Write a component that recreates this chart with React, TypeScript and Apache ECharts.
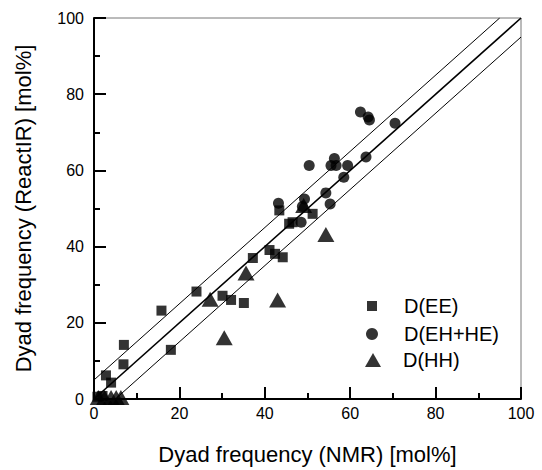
import React, { useEffect, useRef } from "react";
import * as echarts from "echarts";

const FONT = "'Liberation Sans', Arial, sans-serif";

const seriesNames = ["D(EE)", "D(EH+HE)", "D(HH)"];

// D(EE): [NMR, ReactIR]
const eeData: number[][] = [
  [0.8, 0.6], [2.0, 0.8], [2.8, 6.2], [4.0, 4.3], [7.0, 14.2], [6.9, 9.1],
  [15.8, 23.2], [18.0, 12.9], [24.0, 28.2], [30.1, 27.1], [32.1, 26.0],
  [35.1, 25.2], [37.2, 37.0], [41.1, 39.1], [42.4, 38.1], [44.2, 37.2],
  [43.4, 49.5], [45.7, 46.0], [46.5, 46.4], [51.2, 48.6],
];

// D(EH+HE)
const ehData: number[][] = [
  [43.2, 51.4], [49.3, 52.5], [48.5, 46.4], [48.8, 50.5], [50.4, 61.3],
  [55.5, 61.3], [56.3, 63.1], [56.7, 61.3], [59.4, 61.3], [63.7, 63.5],
  [58.5, 58.2], [54.3, 54.1], [55.3, 51.2], [62.4, 75.3], [64.2, 74.0],
  [64.5, 73.2], [70.5, 72.4],
];

// D(HH)
const hhData: number[][] = [
  [1.0, 0.4], [2.5, 0.4], [4.0, 0.4], [5.2, 0.4], [6.3, 0.4],
  [27.2, 26.2], [30.5, 16.1], [35.6, 33.1], [43.0, 26.0], [49.1, 50.8],
  [54.3, 43.2],
];

// reference lines: y = x, y = x + 5, y = x - 5
const centerLine: number[][] = [[0, 0], [100, 100]];
const upperLine: number[][] = [[0, 5], [95, 100]];
const lowerLine: number[][] = [[5, 0], [100, 95]];

const xTicks = { min: 0, max: 100, interval: 20 };
const yTicks = { min: 0, max: 100, interval: 20 };

export default function App() {
  const ref = useRef<HTMLDivElement>(null);
  useEffect(() => {
    if (!ref.current) return;
    const chart = echarts.init(ref.current, null, { renderer: "svg" });
    const axisCommon = {
      type: "value" as const,
      nameLocation: "middle" as const,
      axisLine: { show: true, onZero: false, lineStyle: { color: "#000", width: 2 } },
      axisTick: { show: true, inside: true, length: 12, lineStyle: { color: "#000", width: 2 } },
      minorTick: { show: true, splitNumber: 2, length: 6, lineStyle: { color: "#000", width: 2 } },
      splitLine: { show: false },
      axisLabel: { color: "#000", fontSize: 16, fontFamily: FONT },
      nameTextStyle: { color: "#000", fontSize: 22, fontFamily: FONT },
    };
    const lineSeries = (data: number[][], width: number) => ({
      type: "line" as const,
      data,
      symbol: "none",
      silent: true,
      clip: true,
      lineStyle: { color: "#000", width },
      z: 1,
    });
    chart.setOption({
      animation: false,
      backgroundColor: "#fff",
      grid: {
        left: 94, right: 21, top: 18, bottom: 71,
        show: true, borderColor: "#777", borderWidth: 1,
      },
      xAxis: {
        ...axisCommon,
        ...xTicks,
        name: "Dyad frequency (NMR) [mol%]",
        nameGap: 44,
        axisLabel: { ...axisCommon.axisLabel, margin: 6 },
      },
      yAxis: {
        ...axisCommon,
        ...yTicks,
        name: "Dyad frequency (ReactIR) [mol%]",
        nameGap: 60,
        axisLabel: { ...axisCommon.axisLabel, margin: 10 },
      },
      legend: [
        {
          data: [seriesNames[0]], orient: "vertical", left: 362, top: 291,
          itemWidth: 10, itemHeight: 10, itemGap: 0,
          textStyle: { color: "#000", fontSize: 20, fontFamily: FONT, padding: [0, 0, 0, 22] },
          selectedMode: false,
        },
        {
          data: [seriesNames[1]], orient: "vertical", left: 361, top: 319,
          itemWidth: 12, itemHeight: 12, itemGap: 0,
          textStyle: { color: "#000", fontSize: 20, fontFamily: FONT, padding: [0, 0, 0, 21] },
          selectedMode: false,
        },
        {
          data: [seriesNames[2]], orient: "vertical", left: 360, top: 345,
          itemWidth: 16, itemHeight: 14, itemGap: 0,
          textStyle: { color: "#000", fontSize: 20, fontFamily: FONT, padding: [0, 0, 0, 17] },
          selectedMode: false,
        },
      ],
      series: [
        lineSeries(centerLine, 1.6),
        lineSeries(upperLine, 1),
        lineSeries(lowerLine, 1),
        {
          name: seriesNames[0], type: "scatter", data: eeData, symbol: "rect",
          symbolSize: 10, itemStyle: { color: "#000" }, z: 3,
        },
        {
          name: seriesNames[1], type: "scatter", data: ehData, symbol: "circle",
          symbolSize: 11, itemStyle: { color: "#000" }, z: 3,
        },
        {
          name: seriesNames[2], type: "scatter", data: hhData, symbol: "triangle",
          symbolSize: [17, 15], itemStyle: { color: "#000" }, z: 3,
        },
      ],
    });
    return () => chart.dispose();
  }, []);
  return <div ref={ref} style={{ width: 542, height: 470, position: "absolute", left: 0, top: 0 }} />;
}
